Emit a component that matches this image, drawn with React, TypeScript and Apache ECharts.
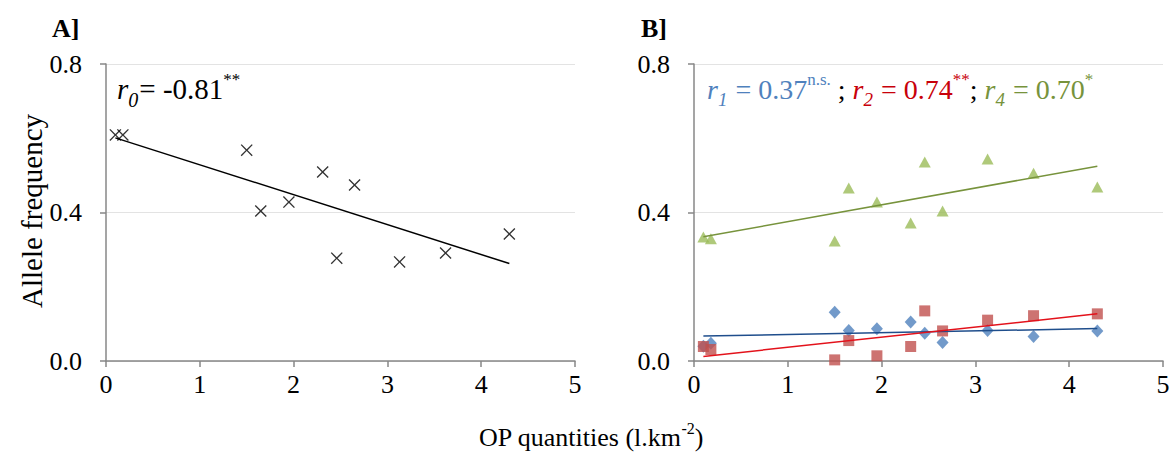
import React, { useEffect, useRef } from "react";
import * as echarts from "echarts";

// OP quantities (l.km-2) of the sampled sites
const opQuantities = [0.1, 0.18, 1.5, 1.65, 1.95, 2.31, 2.46, 2.65, 3.13, 3.62, 4.3];
// Panel A: allele r0
const alleleR0 = [0.609, 0.609, 0.568, 0.404, 0.428, 0.509, 0.277, 0.474, 0.267, 0.291, 0.342];
// Panel B: alleles r1, r2, r4
const alleleR1 = [0.04, 0.048, 0.131, 0.082, 0.087, 0.105, 0.075, 0.05, 0.082, 0.066, 0.081];
const alleleR2 = [0.039, 0.031, 0.003, 0.055, 0.014, 0.039, 0.135, 0.081, 0.11, 0.122, 0.127];
const alleleR4 = [0.334, 0.329, 0.323, 0.466, 0.428, 0.372, 0.536, 0.404, 0.544, 0.506, 0.469];

const xTickMax = 5;
const yTickMax = 0.8;
const yTickStep = 0.4;

const FONT = "Liberation Serif";

function pairs(xs: number[], ys: number[]) {
  return xs.map((x, i) => [x, ys[i]]);
}

function trend(xs: number[], ys: number[]) {
  const n = xs.length;
  const mx = xs.reduce((a, b) => a + b, 0) / n;
  const my = ys.reduce((a, b) => a + b, 0) / n;
  let sxy = 0;
  let sxx = 0;
  for (let i = 0; i < n; i++) {
    sxy += (xs[i] - mx) * (ys[i] - my);
    sxx += (xs[i] - mx) * (xs[i] - mx);
  }
  const b = sxy / sxx;
  const a = my - b * mx;
  const x0 = Math.min(...xs);
  const x1 = Math.max(...xs);
  return [
    [x0, a + b * x0],
    [x1, a + b * x1],
  ];
}

const crossPath =
  "path://M0,8L8,0L50,42L92,0L100,8L58,50L100,92L92,100L50,58L8,100L0,92L42,50Z";

export default function App() {
  const ref = useRef<HTMLDivElement>(null);

  useEffect(() => {
    const chart = echarts.init(ref.current!, null, { renderer: "svg" });

    const axisColor = "#878787";
    const xAxisBase = (gridIndex: number) => ({
      type: "value",
      gridIndex,
      min: 0,
      max: xTickMax,
      interval: 1,
      axisLine: { show: true, lineStyle: { color: axisColor, width: 1.5 } },
      axisTick: { show: true, length: 6, lineStyle: { color: axisColor, width: 1.5 } },
      axisLabel: { fontSize: 26, fontFamily: FONT, color: "#000", margin: 10 },
      splitLine: { show: false },
    });
    const yAxisBase = (gridIndex: number) => ({
      type: "value",
      gridIndex,
      min: 0,
      max: yTickMax,
      interval: yTickStep,
      axisLine: { show: true, onZero: false, lineStyle: { color: axisColor, width: 1.5 } },
      axisTick: { show: true, length: 6, lineStyle: { color: axisColor, width: 1.5 } },
      axisLabel: {
        fontSize: 26,
        fontFamily: FONT,
        color: "#000",
        margin: 24,
        formatter: (v: number) => v.toFixed(1),
      },
      splitLine: { show: true, lineStyle: { color: "#e3e3e3", width: 1 } },
    });

    const BLUE_T = "#4F81BD";
    const RED_T = "#C8000A";
    const GREEN_T = "#77933C";
    const palette: Record<string, string> = { k: "#000000", b: BLUE_T, r: RED_T, g: GREEN_T };

    const makeRich = (main: number, sub: number, sup: number) => {
      const rich: any = {};
      Object.keys(palette).forEach((k) => {
        const c = palette[k];
        rich[`i${k}`] = { fontSize: main, fontFamily: FONT, fontStyle: "italic", lineHeight: main + 4, fill: c, color: c };
        rich[`t${k}`] = { fontSize: main, fontFamily: FONT, lineHeight: main + 4, fill: c, color: c };
        rich[`s${k}`] = {
          fontSize: sub,
          fontFamily: FONT,
          fontStyle: "italic",
          verticalAlign: "bottom",
          lineHeight: sub,
          padding: [0, 1, -4, 0],
          fill: c,
          color: c,
        };
        rich[`p${k}`] = {
          fontSize: sup,
          fontFamily: FONT,
          verticalAlign: "top",
          lineHeight: sup,
          padding: [-2, 0, 0, 0],
          fill: c,
          color: c,
        };
      });
      return rich;
    };
    const richA = makeRich(29, 20, 17);
    const richB = makeRich(28, 19, 17);
    const richName = makeRich(26, 17, 16);
    const seg = (style: string, c: string, s: string) => `{${style}${c}|${s}}`;

    const annA = seg("i", "k", "r") + seg("s", "k", "0") + seg("t", "k", "= -0.81") + seg("p", "k", "**");
    const annB =
      seg("i", "b", "r") +
      seg("s", "b", "1") +
      seg("t", "b", " = 0.37") +
      seg("p", "b", "n.s.") +
      seg("t", "k", " ; ") +
      seg("i", "r", "r") +
      seg("s", "r", "2") +
      seg("t", "r", " = 0.74") +
      seg("p", "r", "**") +
      seg("t", "k", "; ") +
      seg("i", "g", "r") +
      seg("s", "g", "4") +
      seg("t", "g", " = 0.70") +
      seg("p", "g", "*");

    const xName = seg("t", "k", "OP quantities (l.km") + seg("p", "k", "-2") + seg("t", "k", ")");

    const txt = (x: number, y: number, style: any, rotation = 0) => ({
      type: "text",
      x,
      y,
      rotation,
      style: {
        fill: "#000",
        fontFamily: FONT,
        ...style,
        textAlign: style.align,
        textVerticalAlign: style.verticalAlign,
      },
    });

    const option: any = {
      animation: false,
      backgroundColor: "#fff",
      grid: [
        { left: 106, top: 64, width: 469, height: 297 },
        { left: 694, top: 64, width: 469, height: 297 },
      ],
      xAxis: [xAxisBase(0), xAxisBase(1)],
      yAxis: [yAxisBase(0), yAxisBase(1)],
      series: [
        {
          type: "scatter",
          xAxisIndex: 0,
          yAxisIndex: 0,
          symbol: crossPath,
          symbolSize: 12,
          itemStyle: { color: "#000" },
          data: pairs(opQuantities, alleleR0),
        },
        {
          type: "line",
          xAxisIndex: 0,
          yAxisIndex: 0,
          symbol: "none",
          lineStyle: { color: "#000", width: 1.5 },
          data: trend(opQuantities, alleleR0),
        },
        {
          type: "scatter",
          xAxisIndex: 1,
          yAxisIndex: 1,
          symbol: "diamond",
          symbolSize: [12, 13],
          itemStyle: { color: "#4F81BD" },
          data: pairs(opQuantities, alleleR1),
        },
        {
          type: "scatter",
          xAxisIndex: 1,
          yAxisIndex: 1,
          symbol: "rect",
          symbolSize: 11,
          itemStyle: { color: "#C0504D" },
          data: pairs(opQuantities, alleleR2),
        },
        {
          type: "scatter",
          xAxisIndex: 1,
          yAxisIndex: 1,
          symbol: "triangle",
          symbolSize: [12, 11],
          itemStyle: { color: "#9BBB59" },
          data: pairs(opQuantities, alleleR4),
        },
        {
          type: "line",
          xAxisIndex: 1,
          yAxisIndex: 1,
          symbol: "none",
          lineStyle: { color: "#1F4E8C", width: 1.5 },
          data: trend(opQuantities, alleleR1),
        },
        {
          type: "line",
          xAxisIndex: 1,
          yAxisIndex: 1,
          symbol: "none",
          lineStyle: { color: "#E3121B", width: 1.5 },
          data: trend(opQuantities, alleleR2),
        },
        {
          type: "line",
          xAxisIndex: 1,
          yAxisIndex: 1,
          symbol: "none",
          lineStyle: { color: "#77933C", width: 1.5 },
          data: trend(opQuantities, alleleR4),
        },
      ],
      graphic: [
        txt(52, 28, { text: "A]", fontSize: 26, fontWeight: "bold", align: "left", verticalAlign: "middle" }),
        txt(641, 28, { text: "B]", fontSize: 26, fontWeight: "bold", align: "left", verticalAlign: "middle" }),
        txt(
          32,
          211,
          { text: "Allele frequency", fontSize: 29, align: "center", verticalAlign: "middle" },
          Math.PI / 2
        ),
        txt(117, 89, { text: annA, rich: richA, align: "left", verticalAlign: "middle" }),
        txt(707, 89, { text: annB, rich: richB, align: "left", verticalAlign: "middle" }),
        txt(591, 437, { text: xName, rich: richName, align: "center", verticalAlign: "middle" }),
      ],
    };

    chart.setOption(option);
    return () => chart.dispose();
  }, []);

  return (
    <div
      ref={ref}
      style={{ position: "absolute", left: 0, top: 0, width: 1175, height: 462, background: "#fff" }}
    />
  );
}
